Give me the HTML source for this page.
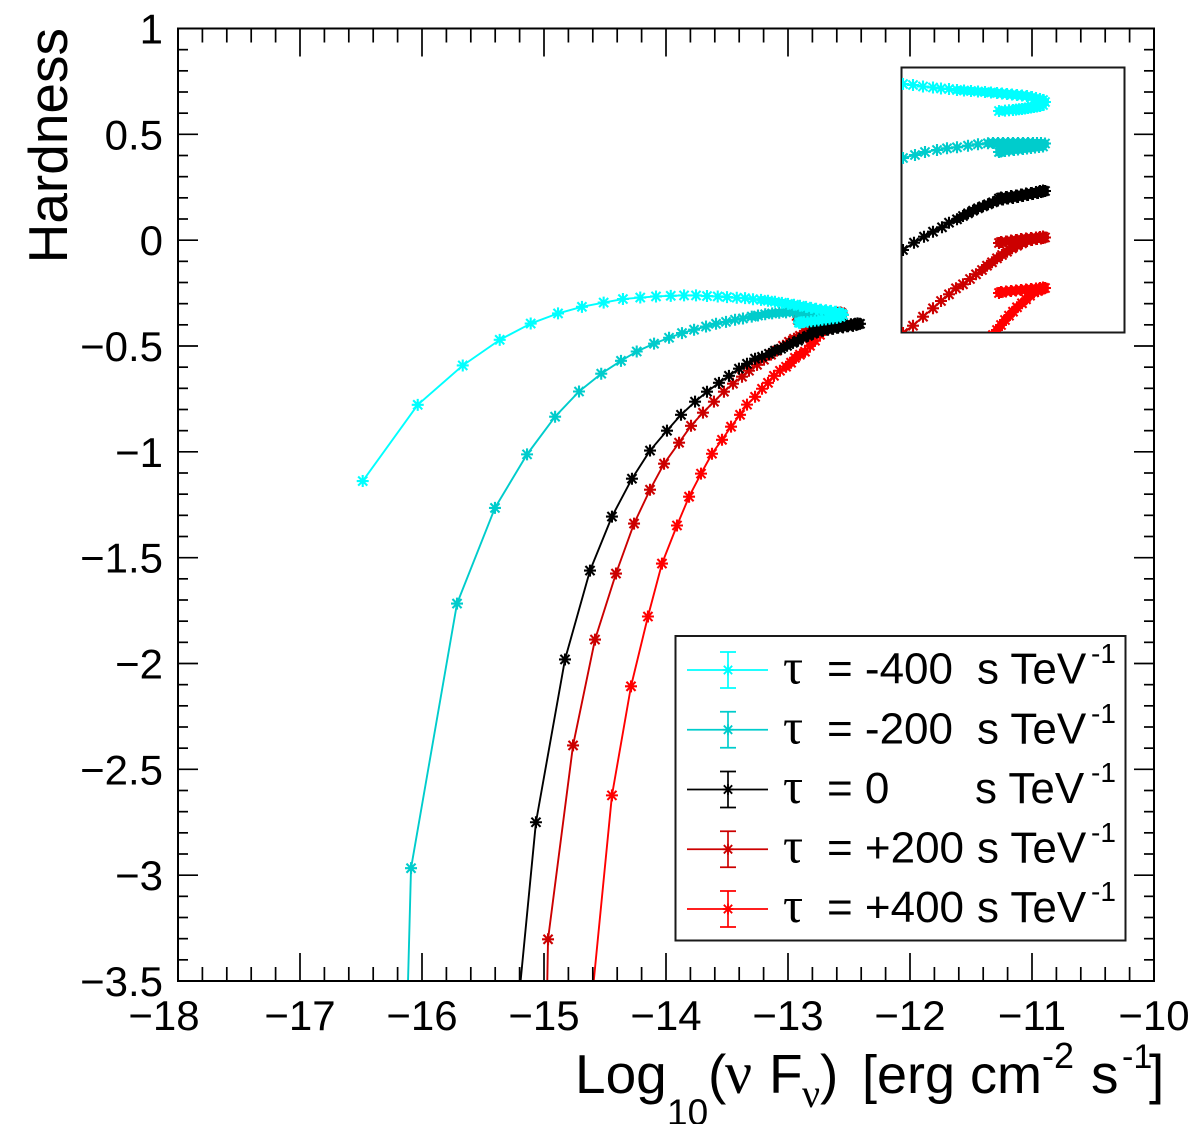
<!DOCTYPE html>
<html lang="en">
<head>
<meta charset="utf-8">
<title>Hardness versus flux</title>
<style>
html,body{margin:0;padding:0;background:#fff;width:1200px;height:1124px;overflow:hidden}
svg{display:block;font-family:"Liberation Sans",Arial,sans-serif}
.sym{font-family:"Liberation Serif",serif}
</style>
</head>
<body>
<svg id="chart" xmlns="http://www.w3.org/2000/svg" width="1200" height="1124" viewBox="0 0 1200 1124">
<defs>
<clipPath id="plot-clip"><rect x="178" y="28.5" width="976" height="952.5"/></clipPath>
<clipPath id="inset-clip"><rect x="902" y="68" width="222" height="264"/></clipPath>
</defs>
<rect width="1200" height="1124" fill="#fff"/>
<g id="series-layer" clip-path="url(#plot-clip)"></g>
<g id="axis-layer"></g>
<g>
<text x="67" y="28" transform="rotate(-90 67 28)" text-anchor="end" font-size="55" fill="#000">Hardness</text>
</g>
<g fill="#000">
<text x="575" y="1093" font-size="55">Log</text>
<text x="667" y="1125" font-size="37">10</text>
<text x="708" y="1093" font-size="55">(</text>
<text class="sym" x="725" y="1093" font-size="60">ν</text>
<text x="769" y="1093" font-size="55">F</text>
<text class="sym" x="802" y="1107" font-size="40">ν</text>
<text x="820" y="1093" font-size="55">)</text>
<text x="862" y="1093" font-size="54">[erg cm</text>
<text x="1042" y="1068" font-size="36">-2</text>
<text x="1091" y="1093" font-size="55">s</text>
<text x="1122" y="1068" font-size="34">-1</text>
<text x="1149" y="1093" font-size="55">]</text>
</g>
<g>
<rect x="901.5" y="67.5" width="223" height="265" fill="#fff" stroke="#1a1a1a" stroke-width="2"/>
<g id="inset-layer" clip-path="url(#inset-clip)"></g>
</g>
<g>
<rect x="675.5" y="636" width="450" height="304.5" fill="#fff" stroke="#1a1a1a" stroke-width="2"/>
<g id="legend-keys"></g>
<g font-size="44" fill="#000">
<g><text class="sym" x="783" y="683.5" font-size="50">τ</text><text x="827" y="683.5">= -400</text><text x="977" y="683.5">s TeV</text><text x="1091" y="663" font-size="28">-1</text></g>
<g><text class="sym" x="783" y="743.5" font-size="50">τ</text><text x="827" y="743.5">= -200</text><text x="977" y="743.5">s TeV</text><text x="1091" y="723" font-size="28">-1</text></g>
<g><text class="sym" x="783" y="803" font-size="50">τ</text><text x="827" y="803">= 0</text><text x="975" y="803">s TeV</text><text x="1091" y="782" font-size="28">-1</text></g>
<g><text class="sym" x="783" y="862.5" font-size="50">τ</text><text x="827" y="862.5">= +200</text><text x="977" y="862.5">s TeV</text><text x="1091" y="842" font-size="28">-1</text></g>
<g><text class="sym" x="783" y="922" font-size="50">τ</text><text x="827" y="922">= +400</text><text x="977" y="922">s TeV</text><text x="1091" y="901" font-size="28">-1</text></g>
</g>
</g>
</svg>
<script>
// Axis tick labels
const xTickLabels = [-18,-17,-16,-15,-14,-13,-12,-11,-10];
const yTickLabels = [1,0.5,0,-0.5,-1,-1.5,-2,-2.5,-3,-3.5];

// Main panel: tau = -400
const cyanFlux = [-16.486,-16.035,-15.666,-15.363,-15.109,-14.885,-14.689,-14.511,-14.353,-14.211,-14.082,-13.961,-13.852,-13.754,-13.664,-13.576,-13.5,-13.42,-13.352,-13.287,-13.221,-13.164,-13.107,-13.05,-13,-12.951,-12.902,-12.852,-12.811,-12.77,-12.73,-12.689,-12.648,-12.607,-12.578,-12.56,-12.55,-12.57,-12.60,-12.63,-12.66,-12.69,-12.72,-12.75,-12.78,-12.81,-12.84,-12.87,-12.89,-12.90,-12.91];
const cyanHardness = [-1.138,-0.778,-0.592,-0.471,-0.394,-0.346,-0.315,-0.295,-0.278,-0.271,-0.266,-0.263,-0.261,-0.261,-0.264,-0.266,-0.269,-0.272,-0.274,-0.279,-0.282,-0.286,-0.291,-0.296,-0.301,-0.305,-0.31,-0.315,-0.32,-0.324,-0.329,-0.331,-0.334,-0.338,-0.343,-0.348,-0.353,-0.362,-0.367,-0.369,-0.371,-0.374,-0.376,-0.379,-0.381,-0.383,-0.386,-0.387,-0.388,-0.39,-0.39];

// Main panel: tau = -200
const tealFlux = [-16.125,-16.09,-15.713,-15.402,-15.139,-14.909,-14.713,-14.531,-14.369,-14.24,-14.098,-13.975,-13.869,-13.77,-13.672,-13.59,-13.508,-13.434,-13.369,-13.297,-13.246,-13.187,-13.13,-13.072,-13.016,-12.959,-12.902,-12.844,-12.787,-12.73,-12.672,-12.615,-12.58,-12.55,-12.574,-12.656,-12.738,-12.82,-12.89,-12.91];
const tealHardness = [-3.727,-2.967,-1.717,-1.265,-1.012,-0.834,-0.715,-0.631,-0.57,-0.526,-0.489,-0.461,-0.439,-0.423,-0.408,-0.395,-0.386,-0.376,-0.37,-0.361,-0.356,-0.35,-0.346,-0.343,-0.341,-0.338,-0.338,-0.338,-0.338,-0.341,-0.343,-0.346,-0.348,-0.353,-0.357,-0.362,-0.367,-0.371,-0.376,-0.381];

// Main panel: tau = 0
const blackFlux = [-15.23,-15.066,-14.828,-14.623,-14.443,-14.279,-14.131,-13.992,-13.877,-13.762,-13.664,-13.566,-13.484,-13.402,-13.336,-13.27,-13.213,-13.156,-13.107,-13.057,-13.008,-12.959,-12.918,-12.877,-12.836,-12.795,-12.754,-12.713,-12.672,-12.631,-12.59,-12.549,-12.508,-12.467,-12.44,-12.425,-12.41,-12.43,-12.45,-12.484,-12.525,-12.566,-12.607,-12.648,-12.689,-12.73,-12.76,-12.78,-12.80];
const blackHardness = [-3.727,-2.75,-1.981,-1.561,-1.306,-1.127,-0.994,-0.9,-0.825,-0.763,-0.716,-0.674,-0.641,-0.607,-0.584,-0.56,-0.551,-0.537,-0.522,-0.513,-0.499,-0.485,-0.475,-0.461,-0.452,-0.442,-0.433,-0.428,-0.423,-0.419,-0.414,-0.412,-0.407,-0.405,-0.4,-0.397,-0.395,-0.393,-0.395,-0.397,-0.4,-0.403,-0.407,-0.409,-0.412,-0.416,-0.419,-0.423,-0.428];

// Main panel: tau = +200
const darkRedFlux = [-14.98,-14.967,-14.762,-14.582,-14.41,-14.262,-14.131,-14.016,-13.893,-13.795,-13.697,-13.607,-13.525,-13.451,-13.377,-13.32,-13.254,-13.197,-13.139,-13.09,-13.041,-12.992,-12.951,-12.902,-12.861,-12.82,-12.779,-12.738,-12.68,-12.639,-12.598,-12.575,-12.56,-12.57,-12.59,-12.62,-12.65,-12.69,-12.73,-12.77,-12.81,-12.85,-12.89,-12.91];
const darkRedHardness = [-3.727,-3.303,-2.387,-1.887,-1.575,-1.339,-1.179,-1.056,-0.957,-0.877,-0.815,-0.763,-0.716,-0.678,-0.645,-0.617,-0.589,-0.565,-0.541,-0.522,-0.499,-0.48,-0.466,-0.452,-0.433,-0.414,-0.395,-0.381,-0.362,-0.357,-0.353,-0.35,-0.345,-0.341,-0.343,-0.345,-0.348,-0.35,-0.353,-0.357,-0.36,-0.364,-0.367,-0.371];

// Main panel: tau = +400
const redFlux = [-14.631,-14.443,-14.287,-14.148,-14.033,-13.91,-13.811,-13.713,-13.623,-13.541,-13.467,-13.393,-13.336,-13.27,-13.213,-13.164,-13.115,-13.066,-13.016,-12.975,-12.943,-12.902,-12.861,-12.82,-12.779,-12.738,-12.697,-12.656,-12.615,-12.585,-12.565,-12.55,-12.56,-12.58,-12.61,-12.65,-12.69,-12.73,-12.77,-12.81,-12.85,-12.89,-12.92];
const redHardness = [-3.727,-2.623,-2.108,-1.778,-1.528,-1.348,-1.212,-1.103,-1.009,-0.943,-0.881,-0.825,-0.777,-0.74,-0.702,-0.674,-0.641,-0.617,-0.598,-0.579,-0.556,-0.541,-0.527,-0.499,-0.475,-0.447,-0.423,-0.4,-0.381,-0.367,-0.357,-0.353,-0.35,-0.353,-0.355,-0.357,-0.36,-0.362,-0.364,-0.367,-0.369,-0.371,-0.376];

// Inset panel (each curve shifted vertically on its own axis)
const insetCyanX = [-13.98,-13.88,-13.78,-13.68,-13.60,-13.52,-13.44,-13.37,-13.30,-13.23,-13.16,-13.10,-13.04,-12.99,-12.94,-12.89,-12.84,-12.79,-12.74,-12.69,-12.65,-12.61,-12.58,-12.56,-12.58,-12.61,-12.64,-12.67,-12.70,-12.73,-12.76,-12.79,-12.82,-12.85,-12.88,-12.92,-12.96,-13.02];
const insetCyanY = [-0.17,-0.18,-0.195,-0.205,-0.215,-0.22,-0.23,-0.235,-0.24,-0.245,-0.25,-0.255,-0.26,-0.265,-0.27,-0.275,-0.28,-0.285,-0.29,-0.30,-0.31,-0.32,-0.33,-0.35,-0.38,-0.39,-0.395,-0.40,-0.405,-0.41,-0.415,-0.42,-0.423,-0.426,-0.43,-0.433,-0.436,-0.44];

const insetTealX = [-13.98,-13.86,-13.76,-13.64,-13.54,-13.44,-13.33,-13.23,-13.13,-13.08,-13.03,-12.98,-12.93,-12.88,-12.83,-12.78,-12.73,-12.68,-12.64,-12.60,-12.56,-12.58,-12.62,-12.66,-12.70,-12.74,-12.78,-12.83,-12.87,-12.92,-12.96,-13.00,-13.02];
const insetTealY = [-0.91,-0.88,-0.85,-0.83,-0.813,-0.803,-0.787,-0.773,-0.763,-0.76,-0.76,-0.76,-0.76,-0.76,-0.76,-0.76,-0.76,-0.76,-0.76,-0.76,-0.765,-0.795,-0.80,-0.805,-0.81,-0.815,-0.82,-0.825,-0.83,-0.835,-0.84,-0.845,-0.85];

const insetBlackX = [-13.98,-13.87,-13.77,-13.68,-13.59,-13.52,-13.44,-13.38,-13.33,-13.28,-13.23,-13.18,-13.13,-13.08,-13.03,-12.98,-12.93,-12.88,-12.83,-12.78,-12.73,-12.68,-12.63,-12.60,-12.58,-12.56,-12.58,-12.61,-12.65,-12.70,-12.75,-12.80,-12.85,-12.90,-12.95,-13.00,-13.02];
const insetBlackY = [-1.83,-1.757,-1.697,-1.647,-1.603,-1.557,-1.523,-1.49,-1.463,-1.437,-1.413,-1.393,-1.373,-1.353,-1.335,-1.325,-1.315,-1.31,-1.30,-1.29,-1.28,-1.27,-1.26,-1.25,-1.245,-1.24,-1.235,-1.24,-1.25,-1.26,-1.265,-1.275,-1.285,-1.29,-1.30,-1.305,-1.315];

const insetDarkRedX = [-13.98,-13.88,-13.78,-13.68,-13.60,-13.52,-13.45,-13.38,-13.31,-13.25,-13.19,-13.14,-13.09,-13.04,-12.99,-12.94,-12.89,-12.84,-12.79,-12.74,-12.69,-12.64,-12.60,-12.58,-12.56,-12.58,-12.61,-12.65,-12.70,-12.75,-12.80,-12.85,-12.90,-12.95,-13.00,-13.02];
const insetDarkRedY = [-2.66,-2.587,-2.497,-2.413,-2.34,-2.273,-2.213,-2.173,-2.12,-2.073,-2.03,-1.987,-1.953,-1.913,-1.88,-1.847,-1.813,-1.787,-1.763,-1.74,-1.73,-1.72,-1.715,-1.71,-1.705,-1.695,-1.70,-1.705,-1.71,-1.715,-1.72,-1.73,-1.735,-1.745,-1.75,-1.76];

const insetRedX = [-13.08,-13.04,-13.00,-12.96,-12.92,-12.88,-12.84,-12.79,-12.75,-12.71,-12.67,-12.63,-12.60,-12.58,-12.56,-12.58,-12.61,-12.65,-12.70,-12.75,-12.80,-12.85,-12.90,-12.95,-13.00,-13.02];
const insetRedY = [-2.68,-2.63,-2.58,-2.53,-2.487,-2.447,-2.403,-2.363,-2.323,-2.287,-2.253,-2.24,-2.225,-2.215,-2.21,-2.205,-2.21,-2.215,-2.22,-2.225,-2.23,-2.235,-2.24,-2.245,-2.25,-2.26];

// Legend
const legendLabels = ['tau-minus-400','tau-minus-200','tau-zero','tau-plus-200','tau-plus-400'];
const legendColors = ['#00ffff','#00cccc','#000000','#cc0000','#ff0000'];

const NS = 'http://www.w3.org/2000/svg';
const X0 = 178, X1 = 1154, Y0 = 28.5, Y1 = 981;
const xMin = -18, xMax = -10, yMin = -3.5, yMax = 1;
function xScale(v){ return X0 + (v - xMin) / (xMax - xMin) * (X1 - X0); }
function yScale(v){ return Y1 - (v - yMin) / (yMax - yMin) * (Y1 - Y0); }
function insetXScale(v){ return 901 + (v + 14) * 100; }
function insetYScale(v){ return 67 - v * 100; }

function svgEl(tag, parent){
  const el = document.createElementNS(NS, tag);
  parent.appendChild(el);
  return el;
}

function drawMarker(parent, cx, cy, color, r, sw){
  const d = r * 0.76;
  const m = svgEl('path', parent);
  
  
  m.setAttribute('d', 'M' + (cx - r) + ' ' + cy + 'H' + (cx + r) +
    'M' + cx + ' ' + (cy - r) + 'V' + (cy + r) +
    'M' + (cx - d) + ' ' + (cy - d) + 'L' + (cx + d) + ' ' + (cy + d) +
    'M' + (cx - d) + ' ' + (cy + d) + 'L' + (cx + d) + ' ' + (cy - d));
  m.setAttribute('stroke', color);
  m.setAttribute('stroke-width', sw);
  m.setAttribute('fill', 'none');
}

function drawSeries(layer, name, xs, ys, color, fx, fy, lineWidth){
  const g = svgEl('g', layer);
  
  
  const line = svgEl('polyline', g);
  
  
  line.setAttribute('points', xs.map((v, i) => fx(v).toFixed(2) + ',' + fy(ys[i]).toFixed(2)).join(' '));
  line.setAttribute('fill', 'none');
  line.setAttribute('stroke', color);
  line.setAttribute('stroke-width', lineWidth);
  line.setAttribute('stroke-linejoin', 'round');
  // Where markers crowd together they merge into a solid band
  for (let i = 1; i < xs.length; i++) {
    const x1 = fx(xs[i - 1]), y1 = fy(ys[i - 1]), x2 = fx(xs[i]), y2 = fy(ys[i]);
    if (Math.hypot(x2 - x1, y2 - y1) < 7.2) {
      const seg = svgEl('line', g);
      
      
      seg.setAttribute('x1', x1.toFixed(2));
      seg.setAttribute('y1', y1.toFixed(2));
      seg.setAttribute('x2', x2.toFixed(2));
      seg.setAttribute('y2', y2.toFixed(2));
      seg.setAttribute('stroke', color);
      seg.setAttribute('stroke-width', 8);
      seg.setAttribute('stroke-linecap', 'round');
    }
  }
  xs.forEach((v, i) => {
    drawMarker(g, +fx(v).toFixed(2), +fy(ys[i]).toFixed(2), color, 6, 2.1);
  });
}

const mainLayer = document.getElementById('series-layer');
drawSeries(mainLayer, 'series-tau-plus-400', redFlux, redHardness, '#ff0000', xScale, yScale, 1.9);
drawSeries(mainLayer, 'series-tau-plus-200', darkRedFlux, darkRedHardness, '#cc0000', xScale, yScale, 1.9);
drawSeries(mainLayer, 'series-tau-zero', blackFlux, blackHardness, '#000000', xScale, yScale, 1.9);
drawSeries(mainLayer, 'series-tau-minus-200', tealFlux, tealHardness, '#00cccc', xScale, yScale, 1.9);
drawSeries(mainLayer, 'series-tau-minus-400', cyanFlux, cyanHardness, '#00ffff', xScale, yScale, 1.9);

const insetLayer = document.getElementById('inset-layer');
drawSeries(insetLayer, 'inset-tau-minus-400', insetCyanX, insetCyanY, '#00ffff', insetXScale, insetYScale, 1.9);
drawSeries(insetLayer, 'inset-tau-minus-200', insetTealX, insetTealY, '#00cccc', insetXScale, insetYScale, 1.9);
drawSeries(insetLayer, 'inset-tau-zero', insetBlackX, insetBlackY, '#000000', insetXScale, insetYScale, 1.9);
drawSeries(insetLayer, 'inset-tau-plus-200', insetDarkRedX, insetDarkRedY, '#cc0000', insetXScale, insetYScale, 1.9);
drawSeries(insetLayer, 'inset-tau-plus-400', insetRedX, insetRedY, '#ff0000', insetXScale, insetYScale, 1.9);

// Axes
const axisLayer = document.getElementById('axis-layer');
function tick(x1, y1, x2, y2, name){
  const t = svgEl('line', axisLayer);
  
  
  t.setAttribute('x1', x1);
  t.setAttribute('y1', y1);
  t.setAttribute('x2', x2);
  t.setAttribute('y2', y2);
  t.setAttribute('stroke', '#000');
  t.setAttribute('stroke-width', 1.7);
}
for (let i = 1; i < 40; i++) {
  const px = xScale(xMin + i * 0.2);
  const len = i % 5 === 0 ? 28 : 14;
  tick(px, Y1, px, Y1 - len, 'x-tick');
  tick(px, Y0, px, Y0 + len, 'x-tick-top');
}
for (let i = 1; i < 45; i++) {
  const py = yScale(yMin + i * 0.1);
  const len = i % 5 === 0 ? 20 : 10;
  tick(X0, py, X0 + len, py, 'y-tick');
  tick(X1, py, X1 - len, py, 'y-tick-right');
}
const frame = svgEl('rect', axisLayer);


frame.setAttribute('x', X0);
frame.setAttribute('y', Y0);
frame.setAttribute('width', X1 - X0);
frame.setAttribute('height', Y1 - Y0);
frame.setAttribute('fill', 'none');
frame.setAttribute('stroke', '#000');
frame.setAttribute('stroke-width', 2);

function fmt(v){ return (v < 0 ? '\u2212' : '') + Math.abs(v); }
xTickLabels.forEach((v, i) => {
  const t = svgEl('text', axisLayer);
  
  
  t.setAttribute('x', xScale(v) - (i === 0 ? 14 : 0));
  t.setAttribute('y', 1030);
  t.setAttribute('text-anchor', 'middle');
  t.setAttribute('font-size', 42);
  t.setAttribute('fill', '#000');
  t.textContent = fmt(v);
});
yTickLabels.forEach((v) => {
  const t = svgEl('text', axisLayer);
  
  
  t.setAttribute('x', 163);
  t.setAttribute('y', yScale(v) + 15);
  t.setAttribute('text-anchor', 'end');
  t.setAttribute('font-size', 42);
  t.setAttribute('fill', '#000');
  t.textContent = fmt(v);
});

// Legend keys
const keyLayer = document.getElementById('legend-keys');
legendLabels.forEach((label, i) => {
  const cy = 670 + i * 59.75;
  const color = legendColors[i];
  const g = svgEl('g', keyLayer);
  
  
  const p = svgEl('path', g);
  
  
  p.setAttribute('d', 'M687 ' + cy + 'H768M728 ' + (cy - 18) + 'V' + (cy + 18) +
    'M720 ' + (cy - 18) + 'H736M720 ' + (cy + 18) + 'H736');
  p.setAttribute('stroke', color);
  p.setAttribute('stroke-width', 1.7);
  p.setAttribute('fill', 'none');
  drawMarker(g, 728, cy, color, 5.5, 1.8);
});
</script>
</body>
</html>
